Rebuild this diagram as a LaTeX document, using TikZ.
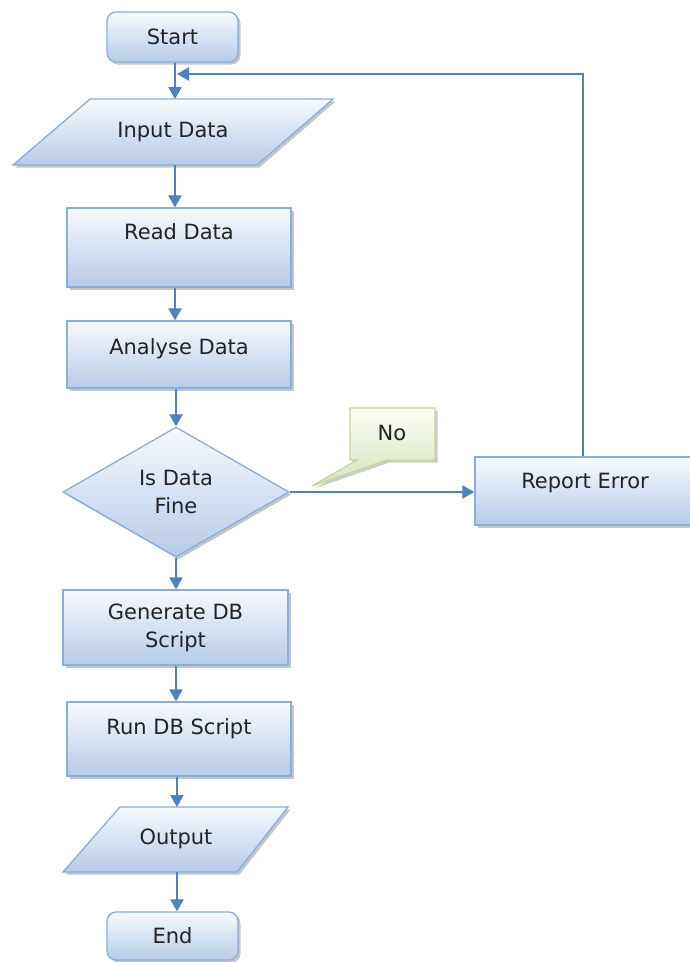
\documentclass[tikz,border=0pt]{standalone}
\usepackage{fontspec}
\setmainfont{DejaVu Sans}
\usetikzlibrary{shapes.geometric,arrows.meta,shadows}
\definecolor{bord}{RGB}{135,174,222}
\definecolor{ftop}{RGB}{247,250,253}
\definecolor{fbot}{RGB}{182,203,231}
\definecolor{arrc}{RGB}{79,129,189}
\definecolor{gtop}{RGB}{251,253,246}
\definecolor{gbot}{RGB}{214,228,188}
\definecolor{gbord}{RGB}{195,214,155}
\definecolor{txtc}{RGB}{35,35,35}
\begin{document}
\begin{tikzpicture}[x=1pt,y=-1pt,
  every node/.style={font=\fontsize{21}{28}\selectfont, text=txtc},
  shp/.style={draw=bord, line width=1.3pt, top color=ftop, bottom color=fbot,
    drop shadow={shadow xshift=2.5pt, shadow yshift=-2.5pt, fill=black!50, opacity=0.45}},
  box/.style={shp, rectangle, inner sep=0pt, minimum width=#1},
  rbox/.style={shp, rectangle, rounded corners=9pt, inner sep=0pt},
  cshp/.style={draw=gbord, line width=1.3pt, top color=gtop, bottom color=gbot,
    drop shadow={shadow xshift=2.5pt, shadow yshift=-2.5pt, fill=black!50, opacity=0.4}},
  arr/.style={draw=arrc, line width=2.2pt, -{Triangle[length=12pt,width=13pt]}}
]
\useasboundingbox[fill=white] (0,0) rectangle (690,962);

% Start
\node[rbox, minimum width=131pt, minimum height=50pt] (start) at (172.5,37) {Start};

% Input Data (parallelogram)
\coordinate (inT) at (175,99);
\coordinate (inB) at (175,165);
\path[shp] (90,99) -- (333,99) -- (257,165) -- (13,165) -- cycle;
\node (in) at (173,132) {Input Data};

% Read Data
\node[box=224pt, text height=31pt, text depth=48pt, anchor=base] (read) at (179,239) {Read Data};

% Analyse Data
\node[box=224pt, text height=33pt, text depth=34pt, anchor=base] (ana) at (179,354) {Analyse Data};

% Decision
\node[shp, diamond, minimum width=226pt, minimum height=130pt, inner sep=0pt, align=center] (dec) at (176,492) {Is Data\\Fine};

% Generate DB Script
\node[box=225pt, minimum height=75pt, align=center] (gen) at (175.5,627.5) {Generate DB\\Script};

% Run DB Script
\node[box=224pt, text height=32pt, text depth=42pt, anchor=base] (run) at (179,734) {Run DB Script};

% Output (parallelogram)
\coordinate (outT) at (177,807);
\coordinate (outB) at (177,872);
\path[shp] (120,807) -- (288,807) -- (237,872) -- (63,872) -- cycle;
\node (out) at (176,839) {Output};

% End
\node[rbox, minimum width=131pt, minimum height=48pt] (end) at (172.5,936) {End};

% Report Error
\node[box=220pt, text height=31pt, text depth=37pt, anchor=base] (rep) at (585,488) {Report Error};

% Callout "No"
\path[cshp] (350,408) -- (435,408) -- (435,460) -- (387,460) -- (312,486) -- (357,460) -- (350,460) -- cycle;
\node (no) at (392,433) {No};

% Connectors
\coordinate (ret) at (177,74);
\draw[arr] ([xshift=2.5pt]start.south) -- (inT);
\draw[arr] (inB) -- (inB |- read.north);
\draw[arr] (read.south -| inB) -- (ana.north -| inB);
\draw[arr] (ana.south -| dec.north) -- (dec.north);
\draw[arr] (dec.south) -- (gen.north -| dec.south);
\draw[arr] (gen.south -| dec.south) -- (run.north -| dec.south);
\draw[arr] (run.south -| outT) -- (outT);
\draw[arr] (outB) -- (end.north -| outB);
\draw[arr] (dec.east) -- (dec.east -| rep.west);
\draw[arr] ([xshift=-2pt]rep.north) |- (ret);
\end{tikzpicture}
\end{document}
